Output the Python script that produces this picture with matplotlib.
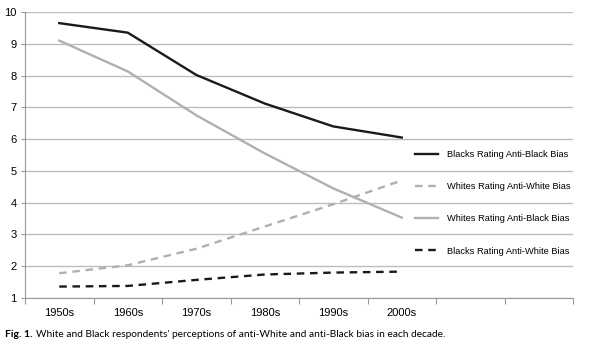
import matplotlib
matplotlib.use('Agg')
import matplotlib.pyplot as plt
from matplotlib.lines import Line2D

plt.rcParams['font.family'] = ['Liberation Sans', 'DejaVu Sans']

# decades on the x axis (two empty slots on the right hold the legend)
decades = ['1950s', '1960s', '1970s', '1980s', '1990s', '2000s', '', '']

blacks_anti_black = [9.65, 9.35, 8.02, 7.12, 6.40, 6.05]
whites_anti_white = [1.78, 2.03, 2.55, 3.25, 3.95, 4.70]
whites_anti_black = [9.10, 8.13, 6.75, 5.55, 4.45, 3.53]
blacks_anti_white = [1.36, 1.38, 1.57, 1.74, 1.80, 1.83]

series_labels = ['Blacks Rating Anti-Black Bias', 'Whites Rating Anti-White Bias',
                 'Whites Rating Anti-Black Bias', 'Blacks Rating Anti-White Bias']

fig = plt.figure(figsize=(6, 3.47), dpi=100)
ax = fig.add_axes([0.0417, 0.1412, 0.9133, 0.8242])

x = list(range(len(blacks_anti_black)))
dark = '#1a1a1a'
light = '#b0b0b0'
lw = 1.7

ax.plot(x, blacks_anti_black, color=dark, lw=lw, solid_joinstyle='round')
ax.plot(x, whites_anti_white, color=light, lw=lw, dashes=(3.2, 2.4))
ax.plot(x, whites_anti_black, color=light, lw=lw, solid_joinstyle='round')
ax.plot(x, blacks_anti_white, color=dark, lw=lw, dashes=(3.2, 2.4))

ax.set_ylim(1, 10)
ax.set_xlim(-0.5, len(decades) - 0.5)
ax.set_yticks(range(1, 11))
ax.yaxis.grid(True, color='#bdbdbd', lw=1)
ax.set_axisbelow(True)

# tick marks on category boundaries, labels in the middle
ax.set_xticks([i - 0.5 for i in range(len(decades) + 1)])
ax.set_xticklabels([])
ax.set_xticks(range(len(decades)), minor=True)
ax.set_xticklabels(decades, minor=True)
ax.tick_params(axis='x', which='minor', length=0, pad=7, labelsize=8)
ax.tick_params(axis='x', which='major', length=4, color='#999999')
ax.tick_params(axis='y', length=3, color='#999999', labelsize=8, pad=3)

for side in ['top', 'right']:
    ax.spines[side].set_visible(False)
for side in ['left', 'bottom']:
    ax.spines[side].set_color('#999999')

handles = [
    Line2D([], [], color=dark, lw=lw),
    Line2D([], [], color=light, lw=lw, dashes=(3.2, 2.4)),
    Line2D([], [], color=light, lw=lw),
    Line2D([], [], color=dark, lw=lw, dashes=(3.2, 2.4)),
]
ax.legend(handles, series_labels, loc='center left', bbox_to_anchor=(0.712, 0.333),
          frameon=False, fontsize=6.7, handlelength=2.5, handletextpad=0.95,
          labelspacing=2.5, borderpad=0, borderaxespad=0)

# caption: bold figure number followed by the description
fig_no = fig.text(0.008, 0.03, 'Fig. 1.', fontsize=7.5, family='Lato',
                  fontweight='bold', va='baseline')
ax.annotate("White and Black respondents' perceptions of anti-White and anti-Black bias in each decade.",
            xy=(1, 0), xycoords=fig_no, xytext=(2.5, 0), textcoords='offset points',
            fontsize=7.3, family='Lato', va='bottom', annotation_clip=False)

fig.savefig('out.png', dpi=100)
